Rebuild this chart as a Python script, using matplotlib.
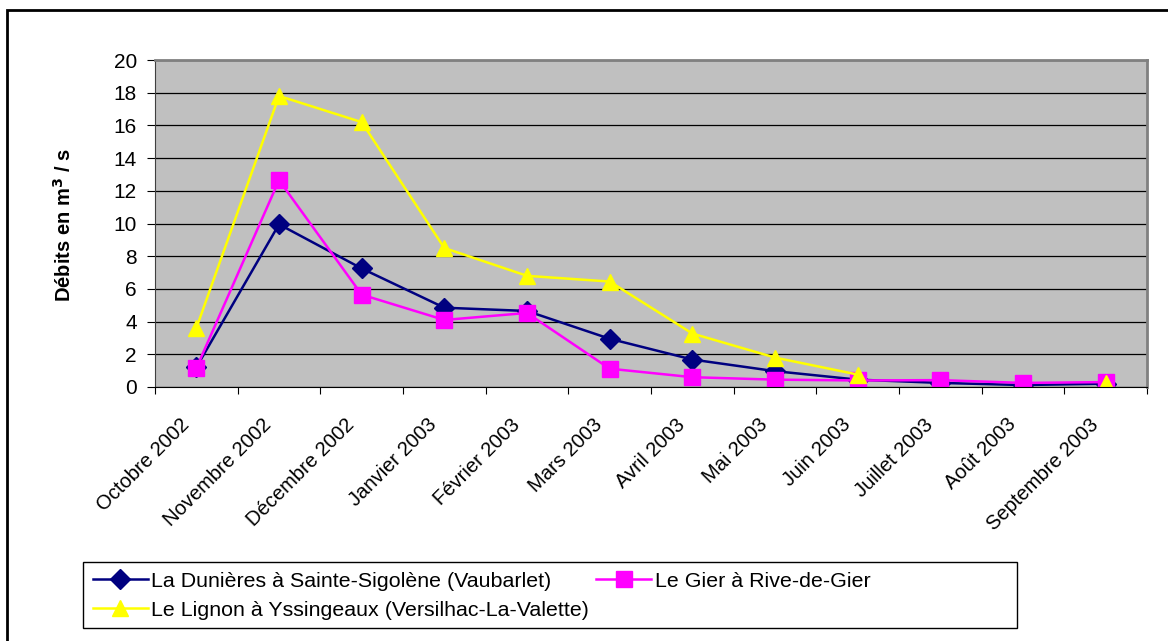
import numpy as np
import matplotlib
matplotlib.use("Agg")
import matplotlib.pyplot as plt
from matplotlib.patches import Rectangle
from matplotlib.transforms import ScaledTranslation

plt.rcParams['font.family'] = ['Liberation Sans', 'DejaVu Sans']

mois = ['Octobre 2002', 'Novembre 2002', 'Décembre 2002', 'Janvier 2003',
        'Février 2003', 'Mars 2003', 'Avril 2003', 'Mai 2003', 'Juin 2003',
        'Juillet 2003', 'Août 2003', 'Septembre 2003']

dunieres = [1.2, 9.95, 7.25, 4.85, 4.65, 2.95, 1.68, 0.97, 0.45, 0.25, 0.12, 0.2]
gier = [1.15, 12.65, 5.65, 4.1, 4.53, 1.12, 0.6, 0.45, 0.4, 0.42, 0.25, 0.3]
lignon = [3.6, 17.8, 16.2, 8.5, 6.8, 6.45, 3.27, 1.8, 0.76, np.nan, np.nan, 0.25]

series = [
    ('La Dunières à Sainte-Sigolène (Vaubarlet)', dunieres, '#000080', 'D', 10),
    ('Le Gier à Rive-de-Gier', gier, '#FF00FF', 's', 11),
    ('Le Lignon à Yssingeaux (Versilhac-La-Valette)', lignon, '#FFFF00', '^', 12),
]

W, H = 1168, 641
fig = plt.figure(figsize=(W / 100, H / 100), dpi=100)
# chart frame around everything
fig.patches.append(Rectangle((7 / W, -0.05), 1.2, 1 - 10 / H + 0.05,
                             transform=fig.transFigure, fill=False,
                             edgecolor='black', linewidth=2))

ax = fig.add_axes([155 / W, 1 - 387 / H, (1147 - 155) / W, (387 - 60) / H])
ax.set_facecolor('#C0C0C0')

x = np.arange(len(mois)) + 0.5
handles = []
for name, vals, col, mk, ms in series:
    h, = ax.plot(x, vals, color=col, linewidth=1.8, marker=mk, markersize=ms,
                 markerfacecolor=col, markeredgecolor=col, label=name)
    handles.append(h)

ax.set_xlim(0, len(mois))
ax.set_ylim(0, 20)
ax.set_yticks(np.arange(0, 21, 2))
ax.yaxis.grid(True, color='black', linewidth=0.9)
ax.set_axisbelow(True)

# ticks between the months, month names under each category
ax.set_xticks(np.arange(len(mois) + 1))
ax.set_xticklabels([])
ax.tick_params(axis='x', length=5, direction='out', color='black')
ax.tick_params(axis='y', length=6, direction='out', labelsize=15, pad=7)

off = ScaledTranslation(-0.17, -0.28, fig.dpi_scale_trans)
for xi, m in zip(x, mois):
    ax.text(xi, 0, m, transform=ax.get_xaxis_transform() + off,
            rotation=45, rotation_mode='anchor', ha='right', va='top', fontsize=14.5)

for side in ['top', 'right']:
    ax.spines[side].set_color('#808080')
    ax.spines[side].set_linewidth(2)
ax.spines['left'].set_color('#404040')
ax.spines['bottom'].set_color('black')

ax.set_ylabel('Débits en m$^{\\mathbf{3}}$ / s', fontsize=14.5, fontweight='bold')
ax.yaxis.set_label_coords(-0.081, 0.495)

# legend: Dunières / Gier on the first row, Lignon on the second
leg = fig.legend(handles=[handles[0], handles[2], handles[1]], loc='upper left', ncol=2,
                 bbox_to_anchor=(83 / W, 1 - 562 / H), borderaxespad=0,
                 fontsize=15.4, frameon=False, handlelength=2.6, handletextpad=0.15,
                 borderpad=0.45, labelspacing=0.48, columnspacing=0.3)
fig.patches.append(Rectangle((83 / W, 1 - 628 / H), (1017 - 83) / W, (628 - 562) / H,
                             transform=fig.transFigure, fill=False,
                             edgecolor='black', linewidth=1))

fig.savefig('out.png', dpi=100)
